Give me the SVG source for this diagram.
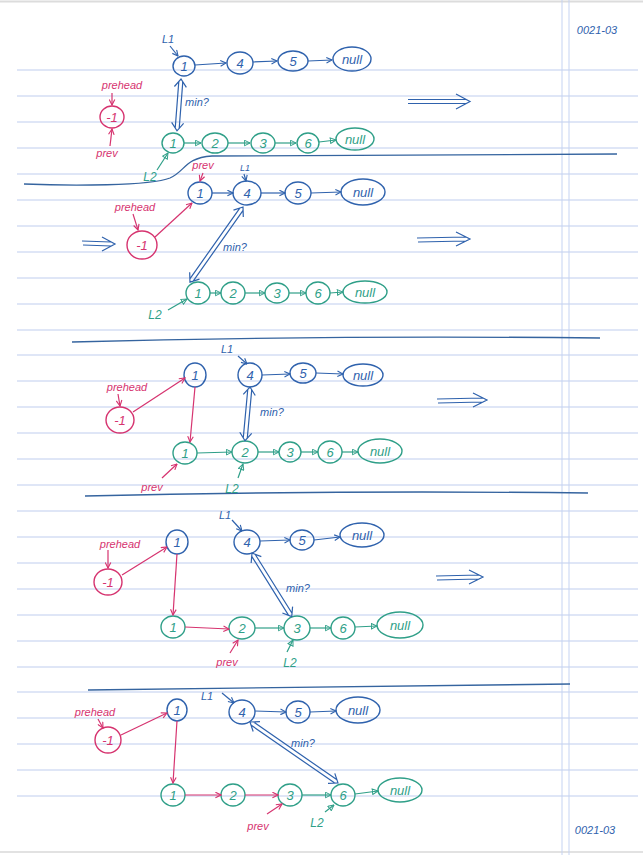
<svg xmlns="http://www.w3.org/2000/svg" width="643" height="855" viewBox="0 0 643 855">
<style>
.rule{stroke:#bfcdee;stroke-width:1}
.vrule{stroke:#c5d3f2;stroke-width:1}
.sep{stroke:#35649f;stroke-width:1.3;fill:none}
.nb{fill:none;stroke:#2f62ad;stroke-width:1.4}
.ng{fill:none;stroke:#2f9f88;stroke-width:1.4}
.np{fill:none;stroke:#d6336f;stroke-width:1.4}
text{font-family:"Liberation Sans","DejaVu Sans",sans-serif;font-style:italic;text-anchor:middle}
.tb{fill:#2f62ad;font-size:13px}
.tg{fill:#2f9f88;font-size:13px}
.tp{fill:#d6336f;font-size:13px}
.lb{fill:#2f62ad;font-size:11px}
.lg{fill:#2f9f88;font-size:12px}
.lp{fill:#d6336f;font-size:11px}
.ab{stroke:#2f62ad;stroke-width:1.2;fill:none;marker-end:url(#mb)}
.ag{stroke:#2f9f88;stroke-width:1.2;fill:none;marker-end:url(#mg)}
.ap{stroke:#d6336f;stroke-width:1.2;fill:none;marker-end:url(#mp)}
.dbl{stroke:#2f62ad;stroke-width:1.2;fill:none}
</style>
<defs>
<marker id="mb" viewBox="0 0 10 10" refX="9" refY="5" markerWidth="7" markerHeight="7" orient="auto" markerUnits="userSpaceOnUse"><path d="M1,1 L9,5 L1,9" fill="none" stroke="#2f62ad" stroke-width="1.6"/></marker>
<marker id="mg" viewBox="0 0 10 10" refX="9" refY="5" markerWidth="7" markerHeight="7" orient="auto" markerUnits="userSpaceOnUse"><path d="M1,1 L9,5 L1,9 Z" fill="none" stroke="#2f9f88" stroke-width="1.4"/></marker>
<marker id="mp" viewBox="0 0 10 10" refX="9" refY="5" markerWidth="7" markerHeight="7" orient="auto" markerUnits="userSpaceOnUse"><path d="M1,1 L9,5 L1,9" fill="none" stroke="#d6336f" stroke-width="1.6"/></marker>
</defs>
<rect width="643" height="855" fill="#ffffff"/>
<g id="paper">
<line x1="0" y1="1.5" x2="643" y2="1.5" stroke="#dcdcdc" stroke-width="2"/>
<line x1="0" y1="852" x2="643" y2="852" stroke="#e2e2e2" stroke-width="2"/>
<g class="rule">
<line x1="17" y1="70" x2="638" y2="70"/><line x1="17" y1="96" x2="638" y2="96"/><line x1="17" y1="122" x2="638" y2="122"/><line x1="17" y1="148" x2="638" y2="148"/><line x1="17" y1="174" x2="638" y2="174"/><line x1="17" y1="200" x2="638" y2="200"/><line x1="17" y1="226" x2="638" y2="226"/><line x1="17" y1="252" x2="638" y2="252"/><line x1="17" y1="278" x2="638" y2="278"/><line x1="17" y1="304" x2="638" y2="304"/><line x1="17" y1="330" x2="638" y2="330"/><line x1="17" y1="355" x2="638" y2="355"/><line x1="17" y1="381" x2="638" y2="381"/><line x1="17" y1="407" x2="638" y2="407"/><line x1="17" y1="433" x2="638" y2="433"/><line x1="17" y1="459" x2="638" y2="459"/><line x1="17" y1="485" x2="638" y2="485"/><line x1="17" y1="511" x2="638" y2="511"/><line x1="17" y1="537" x2="638" y2="537"/><line x1="17" y1="563" x2="638" y2="563"/><line x1="17" y1="589" x2="638" y2="589"/><line x1="17" y1="615" x2="638" y2="615"/><line x1="17" y1="641" x2="638" y2="641"/><line x1="17" y1="667" x2="638" y2="667"/><line x1="17" y1="692" x2="638" y2="692"/><line x1="17" y1="718" x2="638" y2="718"/><line x1="17" y1="744" x2="638" y2="744"/><line x1="17" y1="770" x2="638" y2="770"/><line x1="17" y1="796" x2="638" y2="796"/>
</g>
<line class="vrule" x1="562" y1="0" x2="562" y2="855"/>
<line class="vrule" x1="569" y1="0" x2="569" y2="855"/>
<text class="lb" x="597" y="34">0021-03</text>
<text class="lb" x="595" y="834">0021-03</text>
</g>
<g id="separators">
<path class="sep" d="M24,184 C70,186 150,186 170,178 C186,171 184,158 212,156 L617,154"/>
<path class="sep" d="M72,342 Q330,335 600,338"/>
<path class="sep" d="M85,496 Q340,490 588,493"/>
<path class="sep" d="M88,690 Q330,686 570,684"/>
</g>
<g id="transitions" class="dbl">
<path d="M408,99.5 L466,99.5 M408,103.5 L466,103.5 M456,94 L470,101.5 L456,109"/>
<path d="M417,238 L466,237 M418,242 L466,241 M456,232 L470,239 L456,246"/>
<path d="M437,399 L483,398 M438,403 L483,402 M473,393 L487,400 L473,407"/>
<path d="M436,576 L479,575 M437,580 L479,579 M469,570 L483,577 L469,584"/>
<path d="M82,241 L111,242 M83,245 L111,246 M102,237 L115,244 L102,251"/>
</g>
<!-- Panel 1 -->
<g id="p1-b1"><ellipse class="nb" cx="184" cy="66" rx="11" ry="10"/><text class="tb" x="184" y="71">1</text></g>
<g id="p1-b4"><ellipse class="nb" cx="240" cy="63" rx="13" ry="11"/><text class="tb" x="240" y="68">4</text></g>
<g id="p1-b5"><ellipse class="nb" cx="293" cy="61" rx="15" ry="10"/><text class="tb" x="293" y="66">5</text></g>
<g id="p1-bnull"><ellipse class="nb" cx="352" cy="59" rx="19" ry="12"/><text class="tb" x="352" y="64">null</text></g>
<g id="p1-head"><ellipse class="np" cx="112" cy="117" rx="12" ry="11"/><text class="tp" x="112" y="122">-1</text></g>
<g id="p1-g1"><ellipse class="ng" cx="173" cy="143" rx="11" ry="10"/><text class="tg" x="173" y="148">1</text></g>
<g id="p1-g2"><ellipse class="ng" cx="215" cy="143" rx="13" ry="10"/><text class="tg" x="215" y="148">2</text></g>
<g id="p1-g3"><ellipse class="ng" cx="263" cy="143" rx="12" ry="10"/><text class="tg" x="263" y="148">3</text></g>
<g id="p1-g6"><ellipse class="ng" cx="308" cy="143" rx="11" ry="10"/><text class="tg" x="308" y="148">6</text></g>
<g id="p1-gnull"><ellipse class="ng" cx="355" cy="139" rx="19" ry="11"/><text class="tg" x="355" y="144">null</text></g>
<g id="p1-labels">
<text class="lb" x="168" y="43">L1</text>
<text class="lp" x="122" y="89">prehead</text>
<text class="lp" x="107" y="157">prev</text>
<text class="lb" x="197" y="106">min?</text>
<text class="lg" x="150" y="181">L2</text>
</g>
<!-- Panel 2 -->
<g id="p2-b1"><ellipse class="nb" cx="200" cy="193" rx="12" ry="11"/><text class="tb" x="200" y="198">1</text></g>
<g id="p2-b4"><ellipse class="nb" cx="247" cy="193" rx="14" ry="12"/><text class="tb" x="247" y="198">4</text></g>
<g id="p2-b5"><ellipse class="nb" cx="298" cy="193" rx="13" ry="11"/><text class="tb" x="298" y="198">5</text></g>
<g id="p2-bnull"><ellipse class="nb" cx="363" cy="192" rx="22" ry="13"/><text class="tb" x="363" y="197">null</text></g>
<g id="p2-head"><ellipse class="np" cx="142" cy="245" rx="15" ry="14"/><text class="tp" x="142" y="250">-1</text></g>
<g id="p2-g1"><ellipse class="ng" cx="198" cy="293" rx="12" ry="11"/><text class="tg" x="198" y="298">1</text></g>
<g id="p2-g2"><ellipse class="ng" cx="233" cy="293" rx="12" ry="11"/><text class="tg" x="233" y="298">2</text></g>
<g id="p2-g3"><ellipse class="ng" cx="277" cy="293" rx="12" ry="10"/><text class="tg" x="277" y="298">3</text></g>
<g id="p2-g6"><ellipse class="ng" cx="318" cy="293" rx="12" ry="11"/><text class="tg" x="318" y="298">6</text></g>
<g id="p2-gnull"><ellipse class="ng" cx="365" cy="292" rx="22" ry="11"/><text class="tg" x="365" y="297">null</text></g>
<g id="p2-labels">
<text class="lp" x="203" y="169">prev</text>
<text class="lb" x="245" y="171" style="font-size:9px">L1</text>
<text class="lp" x="135" y="211">prehead</text>
<text class="lb" x="235" y="251">min?</text>
<text class="lg" x="155" y="319">L2</text>
</g>
<!-- Panel 3 -->
<g id="p3-b1"><ellipse class="nb" cx="195" cy="375" rx="11" ry="12"/><text class="tb" x="195" y="380">1</text></g>
<g id="p3-b4"><ellipse class="nb" cx="250" cy="375" rx="12" ry="12"/><text class="tb" x="250" y="380">4</text></g>
<g id="p3-b5"><ellipse class="nb" cx="303" cy="373" rx="13" ry="10"/><text class="tb" x="303" y="378">5</text></g>
<g id="p3-bnull"><ellipse class="nb" cx="363" cy="375" rx="20" ry="11"/><text class="tb" x="363" y="380">null</text></g>
<g id="p3-head"><ellipse class="np" cx="120" cy="420" rx="14" ry="13"/><text class="tp" x="120" y="425">-1</text></g>
<g id="p3-g1"><ellipse class="ng" cx="185" cy="453" rx="12" ry="11"/><text class="tg" x="185" y="458">1</text></g>
<g id="p3-g2"><ellipse class="ng" cx="245" cy="452" rx="13" ry="11"/><text class="tg" x="245" y="457">2</text></g>
<g id="p3-g3"><ellipse class="ng" cx="290" cy="452" rx="11" ry="10"/><text class="tg" x="290" y="457">3</text></g>
<g id="p3-g6"><ellipse class="ng" cx="330" cy="452" rx="12" ry="11"/><text class="tg" x="330" y="457">6</text></g>
<g id="p3-gnull"><ellipse class="ng" cx="380" cy="451" rx="22" ry="12"/><text class="tg" x="380" y="456">null</text></g>
<g id="p3-labels">
<text class="lb" x="227" y="353">L1</text>
<text class="lp" x="127" y="391">prehead</text>
<text class="lb" x="272" y="416">min?</text>
<text class="lp" x="152" y="491">prev</text>
<text class="lg" x="232" y="493">L2</text>
</g>
<!-- Panel 4 -->
<g id="p4-b1"><ellipse class="nb" cx="177" cy="542" rx="11" ry="12"/><text class="tb" x="177" y="547">1</text></g>
<g id="p4-b4"><ellipse class="nb" cx="247" cy="542" rx="13" ry="12"/><text class="tb" x="247" y="547">4</text></g>
<g id="p4-b5"><ellipse class="nb" cx="302" cy="540" rx="12" ry="10"/><text class="tb" x="302" y="545">5</text></g>
<g id="p4-bnull"><ellipse class="nb" cx="362" cy="535" rx="22" ry="12"/><text class="tb" x="362" y="540">null</text></g>
<g id="p4-head"><ellipse class="np" cx="108" cy="582" rx="14" ry="13"/><text class="tp" x="108" y="587">-1</text></g>
<g id="p4-g1"><ellipse class="ng" cx="173" cy="627" rx="12" ry="11"/><text class="tg" x="173" y="632">1</text></g>
<g id="p4-g2"><ellipse class="ng" cx="242" cy="628" rx="13" ry="11"/><text class="tg" x="242" y="633">2</text></g>
<g id="p4-g3"><ellipse class="ng" cx="297" cy="628" rx="13" ry="12"/><text class="tg" x="297" y="633">3</text></g>
<g id="p4-g6"><ellipse class="ng" cx="343" cy="628" rx="12" ry="11"/><text class="tg" x="343" y="633">6</text></g>
<g id="p4-gnull"><ellipse class="ng" cx="400" cy="625" rx="23" ry="13"/><text class="tg" x="400" y="630">null</text></g>
<g id="p4-labels">
<text class="lb" x="225" y="519">L1</text>
<text class="lp" x="120" y="548">prehead</text>
<text class="lb" x="298" y="592">min?</text>
<text class="lp" x="227" y="666">prev</text>
<text class="lg" x="290" y="667">L2</text>
</g>
<!-- Panel 5 -->
<g id="p5-b1"><ellipse class="nb" cx="177" cy="710" rx="10" ry="11"/><text class="tb" x="177" y="715">1</text></g>
<g id="p5-b4"><ellipse class="nb" cx="242" cy="712" rx="13" ry="12"/><text class="tb" x="242" y="717">4</text></g>
<g id="p5-b5"><ellipse class="nb" cx="298" cy="712" rx="12" ry="11"/><text class="tb" x="298" y="717">5</text></g>
<g id="p5-bnull"><ellipse class="nb" cx="358" cy="710" rx="22" ry="13"/><text class="tb" x="358" y="715">null</text></g>
<g id="p5-head"><ellipse class="np" cx="108" cy="740" rx="13" ry="13"/><text class="tp" x="108" y="745">-1</text></g>
<g id="p5-g1"><ellipse class="ng" cx="173" cy="795" rx="12" ry="11"/><text class="tg" x="173" y="800">1</text></g>
<g id="p5-g2"><ellipse class="ng" cx="233" cy="795" rx="12" ry="11"/><text class="tg" x="233" y="800">2</text></g>
<g id="p5-g3"><ellipse class="ng" cx="290" cy="795" rx="12" ry="11"/><text class="tg" x="290" y="800">3</text></g>
<g id="p5-g6"><ellipse class="ng" cx="343" cy="795" rx="12" ry="11"/><text class="tg" x="343" y="800">6</text></g>
<g id="p5-gnull"><ellipse class="ng" cx="400" cy="790" rx="22" ry="12"/><text class="tg" x="400" y="795">null</text></g>
<g id="p5-labels">
<text class="lb" x="207" y="700">L1</text>
<text class="lp" x="95" y="716">prehead</text>
<text class="lb" x="303" y="747">min?</text>
<text class="lp" x="258" y="830">prev</text>
<text class="lg" x="317" y="827">L2</text>
</g>
<g id="connectors">
<!-- panel 1 -->
<path class="ab" d="M170,46 L178,56"/>
<path class="ab" d="M195,65 L226,63"/>
<path class="ab" d="M253,62 L277,61"/>
<path class="ab" d="M308,61 L332,60"/>
<path class="ap" d="M112,93 L112,105"/>
<path class="ap" d="M110,146 L112,129"/>
<path class="ag" d="M184,143 L201,143"/>
<path class="ag" d="M228,143 L250,143"/>
<path class="ag" d="M275,143 L296,143"/>
<path class="ag" d="M319,142 L336,140"/>
<path class="ag" d="M157,170 L168,153"/>
<path class="dbl" transform="translate(181,79) rotate(94.4)" d="M3,-2 L49,-2 M3,2 L49,2 M8,-6 L0,0 L8,6 M44,-6 L52,0 L44,6"/>
<!-- panel 2 -->
<path class="ap" d="M203,173 L200,181"/>
<path class="ab" d="M244,174 L246,181"/>
<path class="ab" d="M212,193 L233,193"/>
<path class="ab" d="M261,193 L285,193"/>
<path class="ab" d="M311,193 L341,192"/>
<path class="ap" d="M133,214 L138,230"/>
<path class="ap" d="M155,237 L192,203"/>
<path class="ag" d="M210,293 L221,293"/>
<path class="ag" d="M245,293 L265,293"/>
<path class="ag" d="M289,293 L306,293"/>
<path class="ag" d="M330,293 L343,292"/>
<path class="ag" d="M168,310 L187,299"/>
<path class="dbl" transform="translate(243,207) rotate(125.2)" d="M3,-2 L89,-2 M3,2 L89,2 M8,-6 L0,0 L8,6 M84,-6 L92,0 L84,6"/>
<!-- panel 3 -->
<path class="ab" d="M238,356 L247,364"/>
<path class="ab" d="M262,375 L290,374"/>
<path class="ab" d="M316,373 L343,374"/>
<path class="ap" d="M118,394 L120,406"/>
<path class="ap" d="M133,412 L185,378"/>
<path class="ap" d="M195,387 L190,442"/>
<path class="ag" d="M197,453 L232,452"/>
<path class="ag" d="M258,452 L279,452"/>
<path class="ag" d="M301,452 L318,452"/>
<path class="ag" d="M342,452 L358,452"/>
<path class="ap" d="M162,478 L177,464"/>
<path class="ag" d="M238,478 L243,464"/>
<path class="dbl" transform="translate(250,387) rotate(95.3)" d="M3,-2 L51,-2 M3,2 L51,2 M8,-6 L0,0 L8,6 M46,-6 L54,0 L46,6"/>
<!-- panel 4 -->
<path class="ab" d="M232,520 L242,531"/>
<path class="ab" d="M260,541 L290,540"/>
<path class="ab" d="M314,540 L340,537"/>
<path class="ap" d="M108,550 L108,568"/>
<path class="ap" d="M122,575 L167,547"/>
<path class="ap" d="M177,554 L173,615"/>
<path class="ap" d="M185,627 L229,629"/>
<path class="ag" d="M255,628 L284,628"/>
<path class="ag" d="M310,628 L331,628"/>
<path class="ag" d="M355,627 L377,626"/>
<path class="ap" d="M230,653 L238,640"/>
<path class="ag" d="M287,652 L293,640"/>
<path class="dbl" transform="translate(252,553) rotate(58)" d="M3,-2 L72,-2 M3,2 L72,2 M8,-6 L0,0 L8,6 M67,-6 L75,0 L67,6"/>
<!-- panel 5 -->
<path class="ab" d="M222,693 L234,703"/>
<path class="ab" d="M255,711 L286,712"/>
<path class="ab" d="M310,712 L336,711"/>
<path class="ap" d="M98,719 L103,728"/>
<path class="ap" d="M121,735 L167,713"/>
<path class="ap" d="M177,721 L173,783"/>
<path class="ap" d="M185,795 L221,795"/>
<path class="ap" d="M245,795 L278,795"/>
<path class="ag" d="M302,795 L331,795"/>
<path class="ag" d="M355,794 L378,791"/>
<path class="ap" d="M267,814 L282,804"/>
<path class="ag" d="M325,812 L334,805"/>
<path class="dbl" transform="translate(250,722) rotate(34.7)" d="M3,-2 L104,-2 M3,2 L104,2 M8,-6 L0,0 L8,6 M99,-6 L107,0 L99,6"/>
</g>
</svg>
